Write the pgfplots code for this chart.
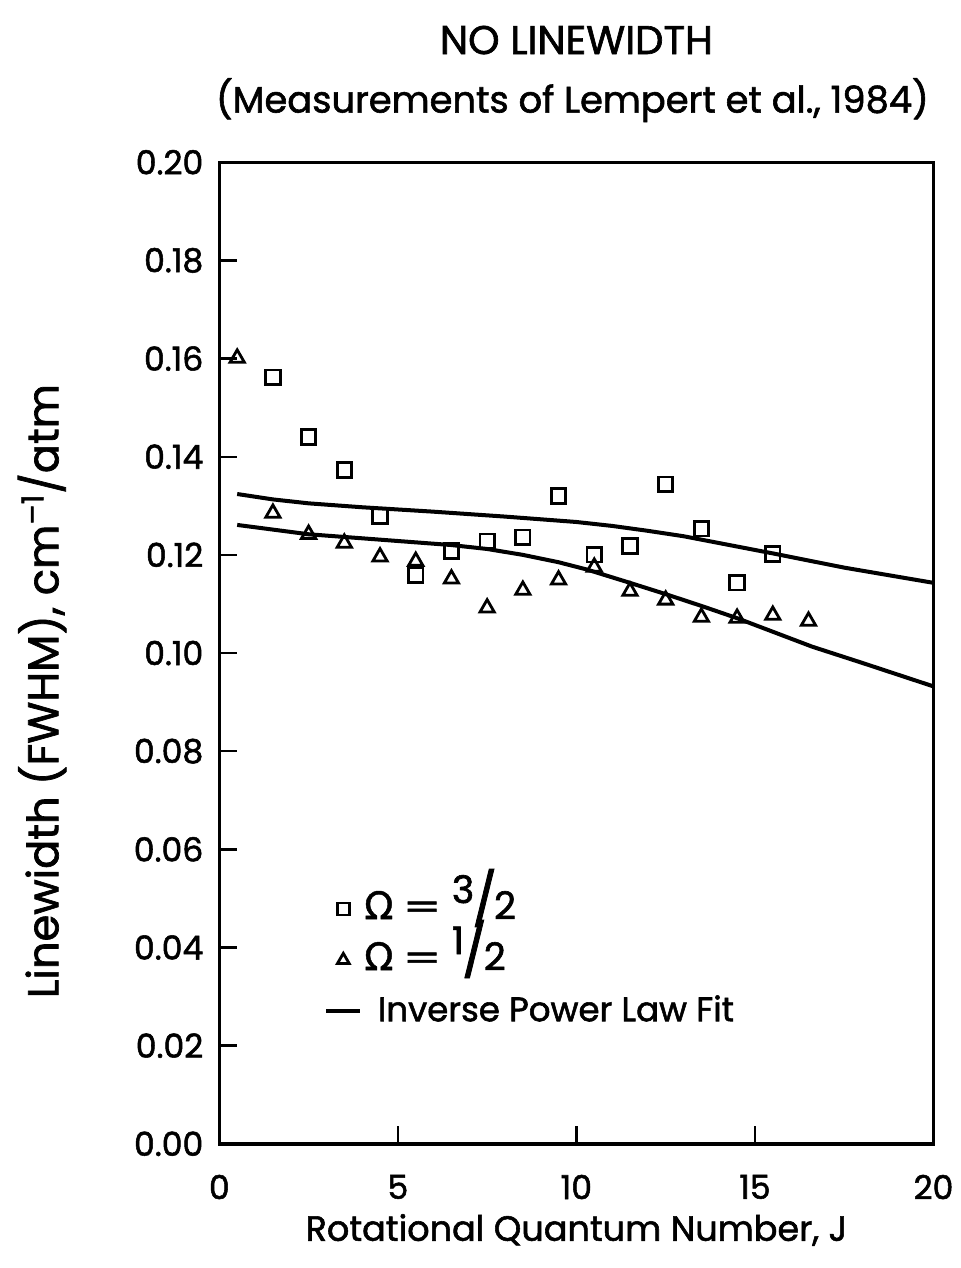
\documentclass[border=0pt]{standalone}
\usepackage{pgfplots}
\pgfplotsset{compat=1.18}
\usepackage{graphicx}
\usepackage{fontspec}
\setmainfont{Poppins}[FakeBold=1.6]
\newfontfamily\greek{DejaVu Sans}[FakeBold=1.2]
\newcommand\fr[2]{\smash{\raisebox{8bp}{\fontsize{19bp}{19bp}\selectfont #1}\kern-1bp\raisebox{0.5bp}{\fontsize{26bp}{26bp}\selectfont /}\kern-1.5bp{\fontsize{19bp}{19bp}\selectfont #2}}}
\newcommand\om{{\greek\fontsize{19bp}{19bp}\selectfont Ω}\kern4.5bp\scalebox{1.6}[1]{=}\kern5bp}
\begin{document}
\begin{tikzpicture}
\begin{axis}[
  name=ax,
  scale only axis,
  width=356.5bp, height=490bp,
  xmin=0, xmax=20, ymin=0, ymax=0.2,
  xtick={0,5,10,15,20},
  ytick={0,0.02,...,0.201},
  tick pos=left,
  tick align=inside,
  major tick length=9bp,
  axis line style={line width=1.7bp},
  every tick/.style={line width=1.2bp, black},
  /pgf/number format/assume math mode=true,
  yticklabel style={/pgf/number format/fixed, /pgf/number format/fixed zerofill, /pgf/number format/precision=2},
  ticklabel style={font=\fontsize{16.5bp}{18bp}\selectfont},
  xticklabel style={yshift=-12bp},
  yticklabel style={xshift=-4.5bp},
  legend style={draw=none, fill=none, at={(axis description cs:0.138,0.262)}, anchor=north west,
    font=\fontsize{17bp}{19bp}\selectfont, row sep=7.5bp, cells={anchor=west},
    nodes={text height=13bp, text depth=3bp, inner sep=1bp},
    legend cell align=left},
]
\addplot[only marks, mark=square, mark size=3.6bp, line width=1.4bp, forget plot] coordinates {
 (1.5,0.1562) (2.5,0.1440) (3.5,0.1373) (4.5,0.1279) (5.5,0.1159) (6.5,0.1208)
 (7.5,0.1228) (8.5,0.1236) (9.5,0.1320) (10.5,0.1200) (11.5,0.1218) (12.5,0.1344)
 (13.5,0.1253) (14.5,0.1143) (15.5,0.1202)};
\addplot[only marks, mark=triangle, mark size=4.1bp, line width=1.4bp, forget plot] coordinates {
 (0.5,0.1601) (1.5,0.1285) (2.5,0.1242) (3.5,0.1224) (4.5,0.1196) (5.5,0.1187)
 (6.5,0.1151) (7.5,0.1092) (8.5,0.1128) (9.5,0.1149) (10.5,0.1175) (11.5,0.1126)
 (12.5,0.1108) (13.5,0.1073) (14.5,0.1071) (15.5,0.1077) (16.5,0.1065)};
\addplot[line width=2bp, forget plot] coordinates {
 (0.5,0.1324) (1.5,0.1313) (2.5,0.1305) (4,0.1297) (6,0.1288) (8,0.1278) (10,0.1267)
 (11,0.1259) (12,0.1249) (13,0.1238) (14,0.1224) (15.5,0.1203) (17.5,0.1174) (20,0.1143)};
\addplot[line width=2bp, forget plot] coordinates {
 (0.5,0.1261) (2.5,0.1242) (4.5,0.1231) (6.5,0.1220) (7.5,0.1212) (8.5,0.1200) (9.5,0.1185) (10.3,0.1170)
 (11.5,0.1143) (12.5,0.1120) (13.5,0.1096) (14.5,0.1071) (16.6,0.1013) (18,0.0980) (20,0.0932)};
% legend entries
\addlegendimage{only marks, mark=square, mark size=3bp, line width=1.4bp}
\addlegendentry{\om\fr{3}{2}}
\addlegendimage{only marks, mark=triangle, mark size=3.4bp, line width=1.4bp}
\addlegendentry{\om\fr{1}{2}}
\addlegendimage{line width=2bp}
\addlegendentry{\kern0.4em Inverse Power Law Fit}
\end{axis}
\node[font=\fontsize{20bp}{22bp}\selectfont] at ([shift={(0,61bp)}]ax.north) {NO LINEWIDTH};
\node[font=\fontsize{18.4bp}{22bp}\selectfont] at ([shift={(-2bp,31bp)}]ax.north) {(Measurements of Lempert et al., 1984)};
\node[font=\fontsize{17.5bp}{20bp}\selectfont] at ([shift={(0,-43bp)}]ax.south) {Rotational Quantum Number, J};
\node[font=\fontsize{21.5bp}{22bp}\selectfont, rotate=90] at ([shift={(-88.5bp,-19bp)}]ax.west) {Linewidth (FWHM), cm\textsuperscript{–1}/atm};
\pgfresetboundingbox
\path[use as bounding box] ([shift={(-109.5bp,-62bp)}]ax.south west) rectangle ([shift={(13.5bp,81bp)}]ax.north east);
\end{tikzpicture}
\end{document}
